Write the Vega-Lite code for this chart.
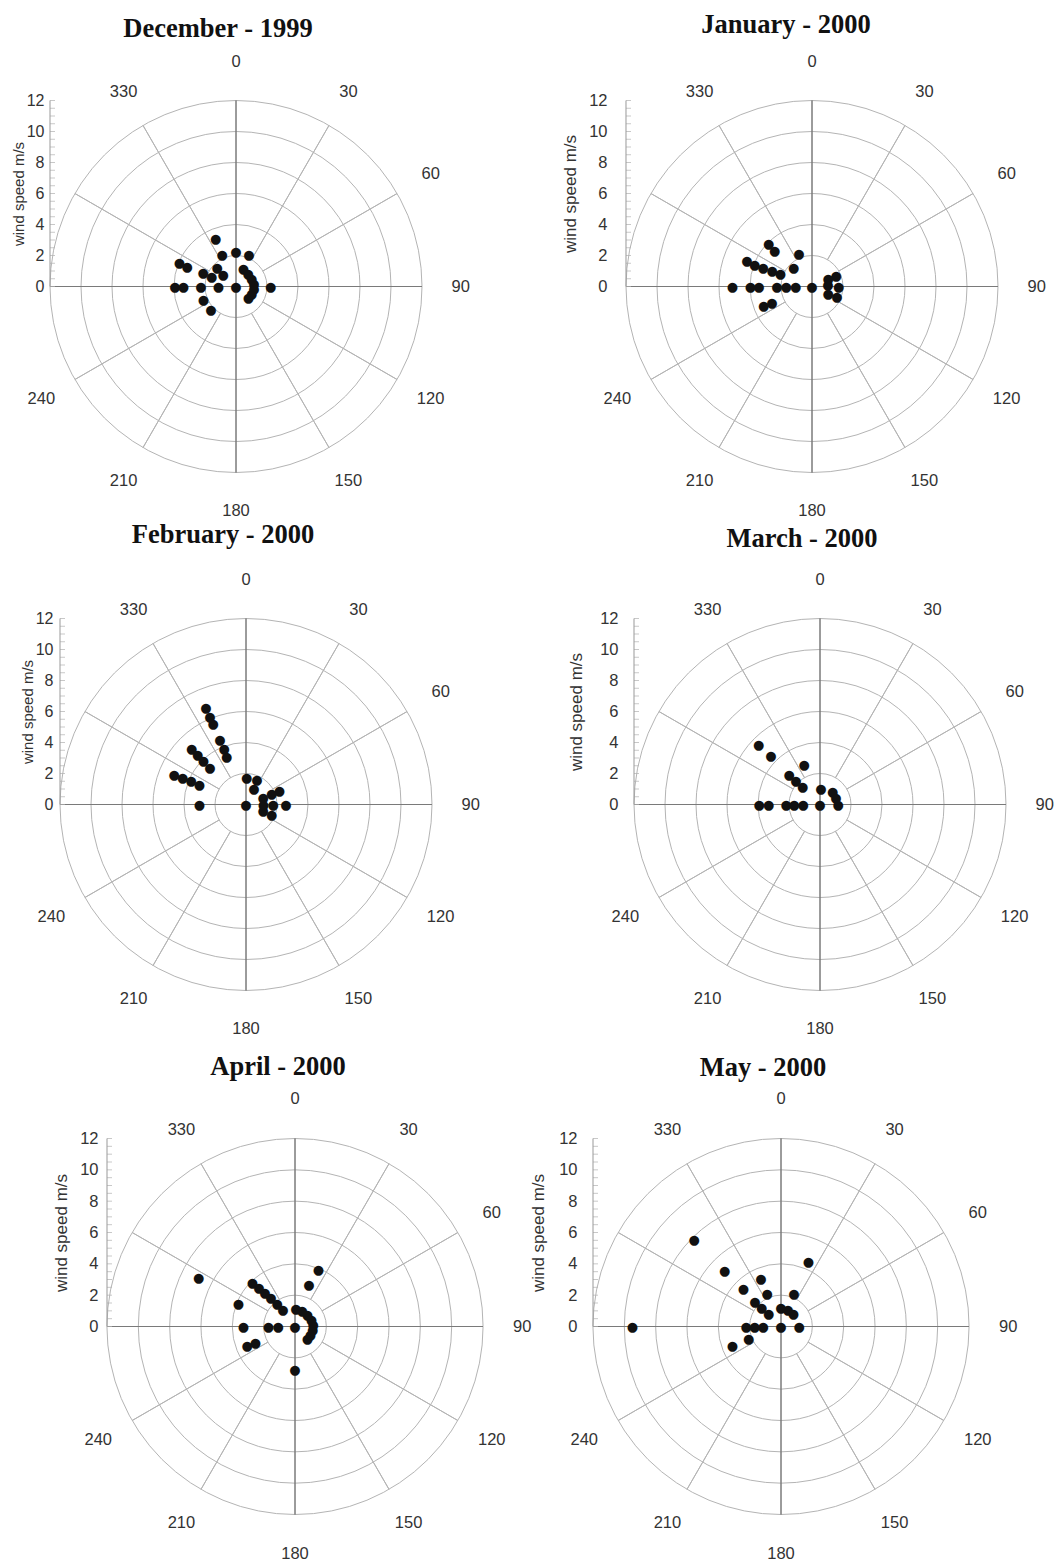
{
"$schema": "https://vega.github.io/schema/vega-lite/v6.json",
"background": "white",
"padding": {"left": 11, "top": 11.5, "right": 0, "bottom": 0},
"config": {"view": {"stroke": null}},
"datasets": {
 "rings": [{"r": 2}, {"r": 4}, {"r": 6}, {"r": 8}, {"r": 10}, {"r": 12}],
 "spokes": [
  {"a": 30, "r0": 2, "r1": 12, "kind": "minor"}, {"a": 60, "r0": 2, "r1": 12, "kind": "minor"},
  {"a": 120, "r0": 2, "r1": 12, "kind": "minor"}, {"a": 150, "r0": 2, "r1": 12, "kind": "minor"},
  {"a": 210, "r0": 2, "r1": 12, "kind": "minor"}, {"a": 240, "r0": 2, "r1": 12, "kind": "minor"},
  {"a": 300, "r0": 2, "r1": 12, "kind": "minor"}, {"a": 330, "r0": 2, "r1": 12, "kind": "minor"},
  {"a": 0, "r0": 0, "r1": 12, "kind": "major"}, {"a": 90, "r0": 0, "r1": 12, "kind": "major"},
  {"a": 180, "r0": 0, "r1": 12, "kind": "major"}, {"a": 270, "r0": 0, "r1": 12, "kind": "major"}
 ],
 "labels": [
  {"a": 0, "lab": "0"}, {"a": 30, "lab": "30"}, {"a": 60, "lab": "60"}, {"a": 90, "lab": "90"},
  {"a": 120, "lab": "120"}, {"a": 150, "lab": "150"}, {"a": 180, "lab": "180"}, {"a": 210, "lab": "210"},
  {"a": 240, "lab": "240"}, {"a": 330, "lab": "330"}
 ],
 "ticks": [
  {"v": 0}, {"v": 0.5}, {"v": 1}, {"v": 1.5}, {"v": 2}, {"v": 2.5}, {"v": 3}, {"v": 3.5}, {"v": 4}, {"v": 4.5},
  {"v": 5}, {"v": 5.5}, {"v": 6}, {"v": 6.5}, {"v": 7}, {"v": 7.5}, {"v": 8}, {"v": 8.5}, {"v": 9}, {"v": 9.5},
  {"v": 10}, {"v": 10.5}, {"v": 11}, {"v": 11.5}, {"v": 12}
 ],
 "dec": [
  {"dir": 336.8, "ws": 3.32}, {"dir": 336.6, "ws": 2.23}, {"dir": 0, "ws": 2.24}, {"dir": 22.3, "ws": 2.21},
  {"dir": 292.3, "ws": 3.95}, {"dir": 291.6, "ws": 3.38}, {"dir": 292, "ws": 2.28}, {"dir": 292, "ws": 1.69},
  {"dir": 314.4, "ws": 1.69}, {"dir": 312.7, "ws": 1.12}, {"dir": 270, "ws": 3.94}, {"dir": 270, "ws": 3.4},
  {"dir": 270, "ws": 2.26}, {"dir": 270, "ws": 1.14}, {"dir": 0, "ws": 0}, {"dir": 248.3, "ws": 2.27},
  {"dir": 226.5, "ws": 2.22}, {"dir": 22.9, "ws": 1.21}, {"dir": 45, "ws": 1.12}, {"dir": 65, "ws": 1.12},
  {"dir": 82.7, "ws": 1.17}, {"dir": 98.5, "ws": 1.17}, {"dir": 116, "ws": 1.13}, {"dir": 134, "ws": 1.11},
  {"dir": 90, "ws": 2.24}
 ],
 "jan": [
  {"dir": 314.3, "ws": 3.9}, {"dir": 313.7, "ws": 3.33}, {"dir": 337.9, "ws": 2.23}, {"dir": 314.5, "ws": 1.66},
  {"dir": 291.6, "ws": 4.51}, {"dir": 291, "ws": 3.96}, {"dir": 290.9, "ws": 3.38}, {"dir": 291, "ws": 2.76},
  {"dir": 291.8, "ws": 2.2}, {"dir": 270, "ws": 5.14}, {"dir": 270, "ws": 3.98}, {"dir": 270, "ws": 3.42},
  {"dir": 270, "ws": 2.26}, {"dir": 270, "ws": 1.66}, {"dir": 270, "ws": 1.05}, {"dir": 0, "ws": 0},
  {"dir": 247.5, "ws": 3.37}, {"dir": 248.2, "ws": 2.78}, {"dir": 65.5, "ws": 1.14}, {"dir": 66, "ws": 1.7},
  {"dir": 86, "ws": 1.03}, {"dir": 90, "ws": 1.72}, {"dir": 113.6, "ws": 1.13}, {"dir": 113, "ws": 1.75}
 ],
 "feb": [
  {"dir": 337.4, "ws": 6.71}, {"dir": 337.7, "ws": 6.12}, {"dir": 337.9, "ws": 5.62}, {"dir": 337.9, "ws": 4.46},
  {"dir": 338.6, "ws": 3.88}, {"dir": 338, "ws": 3.32}, {"dir": 315.4, "ws": 4.99}, {"dir": 315.4, "ws": 4.44},
  {"dir": 315.4, "ws": 3.92}, {"dir": 315.5, "ws": 3.32}, {"dir": 292.2, "ws": 5.0}, {"dir": 292.9, "ws": 4.43},
  {"dir": 293, "ws": 3.85}, {"dir": 292.5, "ws": 3.26}, {"dir": 270, "ws": 3.01}, {"dir": 0, "ws": 0},
  {"dir": 1.5, "ws": 1.72}, {"dir": 24.3, "ws": 1.73}, {"dir": 26.6, "ws": 1.15}, {"dir": 69.4, "ws": 1.19},
  {"dir": 68.7, "ws": 1.78}, {"dir": 68.1, "ws": 2.32}, {"dir": 90, "ws": 1.12}, {"dir": 90, "ws": 1.76},
  {"dir": 90, "ws": 2.58}, {"dir": 110.6, "ws": 1.19}, {"dir": 111.3, "ws": 1.78}
 ],
 "mar": [
  {"dir": 314.4, "ws": 5.53}, {"dir": 314.6, "ws": 4.44}, {"dir": 338.2, "ws": 2.73}, {"dir": 314.3, "ws": 2.77},
  {"dir": 314.6, "ws": 2.18}, {"dir": 315.6, "ws": 1.6}, {"dir": 3.6, "ws": 1.03}, {"dir": 46.6, "ws": 1.13},
  {"dir": 67.3, "ws": 1.12}, {"dir": 90, "ws": 1.18}, {"dir": 270, "ws": 3.92}, {"dir": 270, "ws": 3.31},
  {"dir": 270, "ws": 2.19}, {"dir": 270, "ws": 1.66}, {"dir": 270, "ws": 1.08}, {"dir": 0, "ws": 0}
 ],
 "apr": [
  {"dir": 296.8, "ws": 6.89}, {"dir": 292.1, "ws": 3.89}, {"dir": 315.7, "ws": 3.9}, {"dir": 316.9, "ws": 3.38},
  {"dir": 317.7, "ws": 2.85}, {"dir": 319.3, "ws": 2.36}, {"dir": 321.7, "ws": 1.84}, {"dir": 324.6, "ws": 1.33},
  {"dir": 22.6, "ws": 3.89}, {"dir": 18.5, "ws": 2.78}, {"dir": 3.4, "ws": 1.09}, {"dir": 25.2, "ws": 1.08},
  {"dir": 45.9, "ws": 1.1}, {"dir": 67, "ws": 1.14}, {"dir": 86, "ws": 1.17}, {"dir": 102.8, "ws": 1.15},
  {"dir": 119.3, "ws": 1.13}, {"dir": 136, "ws": 1.15}, {"dir": 270, "ws": 3.3}, {"dir": 270, "ws": 1.69},
  {"dir": 270, "ws": 1.08}, {"dir": 0, "ws": 0}, {"dir": 247.6, "ws": 3.31}, {"dir": 246.8, "ws": 2.75},
  {"dir": 180, "ws": 2.79}
 ],
 "may": [
  {"dir": 314.8, "ws": 7.82}, {"dir": 314.7, "ws": 5.05}, {"dir": 22.9, "ws": 4.48}, {"dir": 337.2, "ws": 3.32},
  {"dir": 314.5, "ws": 3.37}, {"dir": 337, "ws": 2.24}, {"dir": 21.9, "ws": 2.22}, {"dir": 313.5, "ws": 2.29},
  {"dir": 314.2, "ws": 1.71}, {"dir": 314.3, "ws": 1.1}, {"dir": 0, "ws": 1.15}, {"dir": 22.6, "ws": 1.13},
  {"dir": 45.7, "ws": 1.1}, {"dir": 90, "ws": 1.16}, {"dir": 0, "ws": 0}, {"dir": 270, "ws": 1.14},
  {"dir": 270, "ws": 1.68}, {"dir": 270, "ws": 2.23}, {"dir": 270, "ws": 9.48}, {"dir": 248.5, "ws": 2.21},
  {"dir": 248.3, "ws": 3.34}
 ]
},
"columns": 2,
"spacing": {"row": 146, "column": 53},
"bounds": "flush",
"resolve": {"scale": {"radius": "independent", "theta": "independent", "stroke": "independent", "x": "independent", "y": "independent"}},
"concat": [
  {"width": 372, "height": 372,
   "title": {"text": "December - 1999", "font": "Liberation Serif", "fontSize": 26.5, "fontWeight": "bold", "color": "#111", "anchor": "middle", "frame": "group", "offset": 13, "dx": -18, "dy": 2},
   "layer": [
    {"data": {"name": "rings"}, "mark": {"type": "arc", "theta": 0, "theta2": 6.2832, "fill": "white", "fillOpacity": 0, "stroke": "#b4b4b4", "strokeWidth": 1},
     "encoding": {"radius": {"field": "r", "type": "quantitative", "stack": null, "scale": {"type": "linear", "domain": [0, 12], "range": [0, 186], "zero": true, "nice": false}}}},
    {"data": {"name": "spokes"}, "mark": {"type": "arc", "fill": "white", "fillOpacity": 0, "strokeWidth": 1},
     "encoding": {"theta": {"field": "a", "type": "quantitative", "stack": null, "scale": {"type": "linear", "domain": [0, 360], "range": [0, 6.283185307179586], "zero": true, "nice": false}}, "theta2": {"field": "a"},
      "radius": {"field": "r1", "type": "quantitative", "stack": null, "scale": {"type": "linear", "domain": [0, 12], "range": [0, 186], "zero": true, "nice": false}}, "radius2": {"field": "r0"},
      "stroke": {"field": "kind", "type": "nominal", "scale": {"domain": ["minor", "major"], "range": ["#b4b4b4", "#7a7a7a"]}, "legend": null}}},
    {"data": {"name": "ticks"}, "mark": {"type": "tick", "orient": "horizontal", "size": 5, "thickness": 1, "color": "#b0b0b0", "xOffset": 2.5},
     "encoding": {"x": {"datum": -12, "type": "quantitative", "scale": {"domain": [-12, 12], "nice": false, "zero": false}, "axis": null},
      "y": {"field": "v", "type": "quantitative", "scale": {"domain": [-12, 12], "nice": false, "zero": false},
       "axis": {"values": [0, 2, 4, 6, 8, 10, 12], "domain": false, "ticks": false, "grid": false, "labelFont": "Liberation Sans", "labelFontSize": 16, "labelColor": "#333", "labelPadding": 6, "title": "wind speed m/s", "titleFont": "Liberation Sans", "titleFontSize": 15, "titleFontWeight": "normal", "titleColor": "#333", "titlePadding": 0, "titleY": 93, "offset": 0}}}},
    {"data": {"values": [{}]}, "mark": {"type": "rule", "color": "#999", "strokeWidth": 1},
     "encoding": {"x": {"datum": -12, "type": "quantitative", "scale": {"domain": [-12, 12], "nice": false, "zero": false}, "axis": null},
      "y": {"datum": 0, "type": "quantitative", "scale": {"domain": [-12, 12], "nice": false, "zero": false}},
      "y2": {"datum": 12}}},
    {"data": {"name": "labels"}, "mark": {"type": "text", "font": "Liberation Sans", "fontSize": 16.5, "color": "#333", "align": "center", "baseline": "middle"},
     "encoding": {"theta": {"field": "a", "type": "quantitative", "scale": {"type": "linear", "domain": [0, 360], "range": [0, 6.283185307179586], "zero": true, "nice": false}},
      "radius": {"datum": 14.5, "type": "quantitative", "scale": {"type": "linear", "domain": [0, 12], "range": [0, 186], "zero": true, "nice": false}},
      "text": {"field": "lab", "type": "nominal"}}},
    {"data": {"name": "dec"}, "mark": {"type": "text", "text": "●", "font": "DejaVu Sans", "fontSize": 13, "color": "#111", "align": "center", "baseline": "middle"},
     "encoding": {"theta": {"field": "dir", "type": "quantitative", "scale": {"type": "linear", "domain": [0, 360], "range": [0, 6.283185307179586], "zero": true, "nice": false}},
      "radius": {"field": "ws", "type": "quantitative", "scale": {"type": "linear", "domain": [0, 12], "range": [0, 186], "zero": true, "nice": false}}}}
   ]},
  {"width": 438, "height": 372,
   "title": {"text": "January - 2000", "font": "Liberation Serif", "fontSize": 26.5, "fontWeight": "bold", "color": "#111", "anchor": "middle", "frame": "group", "offset": 13, "dx": -26, "dy": -2},
   "layer": [
    {"data": {"name": "rings"}, "mark": {"type": "arc", "theta": 0, "theta2": 6.2832, "fill": "white", "fillOpacity": 0, "stroke": "#b4b4b4", "strokeWidth": 1},
     "encoding": {"radius": {"field": "r", "type": "quantitative", "stack": null, "scale": {"type": "linear", "domain": [0, 12], "range": [0, 186], "zero": true, "nice": false}}}},
    {"data": {"name": "spokes"}, "mark": {"type": "arc", "fill": "white", "fillOpacity": 0, "strokeWidth": 1},
     "encoding": {"theta": {"field": "a", "type": "quantitative", "stack": null, "scale": {"type": "linear", "domain": [0, 360], "range": [0, 6.283185307179586], "zero": true, "nice": false}}, "theta2": {"field": "a"},
      "radius": {"field": "r1", "type": "quantitative", "stack": null, "scale": {"type": "linear", "domain": [0, 12], "range": [0, 186], "zero": true, "nice": false}}, "radius2": {"field": "r0"},
      "stroke": {"field": "kind", "type": "nominal", "scale": {"domain": ["minor", "major"], "range": ["#b4b4b4", "#7a7a7a"]}, "legend": null}}},
    {"data": {"name": "ticks"}, "mark": {"type": "tick", "orient": "horizontal", "size": 5, "thickness": 1, "color": "#b0b0b0", "xOffset": 2.5},
     "encoding": {"x": {"datum": -12, "type": "quantitative", "scale": {"domain": [-14.129, 14.129], "nice": false, "zero": false}, "axis": null},
      "y": {"field": "v", "type": "quantitative", "scale": {"domain": [-12, 12], "nice": false, "zero": false},
       "axis": {"values": [0, 2, 4, 6, 8, 10, 12], "domain": false, "ticks": false, "grid": false, "labelFont": "Liberation Sans", "labelFontSize": 16.5, "labelColor": "#333", "labelPadding": 19, "title": "wind speed m/s", "titleFont": "Liberation Sans", "titleFontSize": 17, "titleFontWeight": "normal", "titleColor": "#333", "titlePadding": 9, "titleY": 93, "offset": -33}}}},
    {"data": {"values": [{}]}, "mark": {"type": "rule", "color": "#999", "strokeWidth": 1},
     "encoding": {"x": {"datum": -12, "type": "quantitative", "scale": {"domain": [-14.129, 14.129], "nice": false, "zero": false}, "axis": null},
      "y": {"datum": 0, "type": "quantitative", "scale": {"domain": [-12, 12], "nice": false, "zero": false}},
      "y2": {"datum": 12}}},
    {"data": {"name": "labels"}, "mark": {"type": "text", "font": "Liberation Sans", "fontSize": 16.5, "color": "#333", "align": "center", "baseline": "middle"},
     "encoding": {"theta": {"field": "a", "type": "quantitative", "scale": {"type": "linear", "domain": [0, 360], "range": [0, 6.283185307179586], "zero": true, "nice": false}},
      "radius": {"datum": 14.5, "type": "quantitative", "scale": {"type": "linear", "domain": [0, 12], "range": [0, 186], "zero": true, "nice": false}},
      "text": {"field": "lab", "type": "nominal"}}},
    {"data": {"name": "jan"}, "mark": {"type": "text", "text": "●", "font": "DejaVu Sans", "fontSize": 13, "color": "#111", "align": "center", "baseline": "middle"},
     "encoding": {"theta": {"field": "dir", "type": "quantitative", "scale": {"type": "linear", "domain": [0, 360], "range": [0, 6.283185307179586], "zero": true, "nice": false}},
      "radius": {"field": "ws", "type": "quantitative", "scale": {"type": "linear", "domain": [0, 12], "range": [0, 186], "zero": true, "nice": false}}}}
   ]},
  {"width": 392, "height": 372,
   "title": {"text": "February - 2000", "font": "Liberation Serif", "fontSize": 26.5, "fontWeight": "bold", "color": "#111", "anchor": "middle", "frame": "group", "offset": 13, "dx": -23, "dy": -10},
   "layer": [
    {"data": {"name": "rings"}, "mark": {"type": "arc", "theta": 0, "theta2": 6.2832, "fill": "white", "fillOpacity": 0, "stroke": "#b4b4b4", "strokeWidth": 1},
     "encoding": {"radius": {"field": "r", "type": "quantitative", "stack": null, "scale": {"type": "linear", "domain": [0, 12], "range": [0, 186], "zero": true, "nice": false}}}},
    {"data": {"name": "spokes"}, "mark": {"type": "arc", "fill": "white", "fillOpacity": 0, "strokeWidth": 1},
     "encoding": {"theta": {"field": "a", "type": "quantitative", "stack": null, "scale": {"type": "linear", "domain": [0, 360], "range": [0, 6.283185307179586], "zero": true, "nice": false}}, "theta2": {"field": "a"},
      "radius": {"field": "r1", "type": "quantitative", "stack": null, "scale": {"type": "linear", "domain": [0, 12], "range": [0, 186], "zero": true, "nice": false}}, "radius2": {"field": "r0"},
      "stroke": {"field": "kind", "type": "nominal", "scale": {"domain": ["minor", "major"], "range": ["#b4b4b4", "#7a7a7a"]}, "legend": null}}},
    {"data": {"name": "ticks"}, "mark": {"type": "tick", "orient": "horizontal", "size": 5, "thickness": 1, "color": "#b0b0b0", "xOffset": 2.5},
     "encoding": {"x": {"datum": -12, "type": "quantitative", "scale": {"domain": [-12.6452, 12.6452], "nice": false, "zero": false}, "axis": null},
      "y": {"field": "v", "type": "quantitative", "scale": {"domain": [-12, 12], "nice": false, "zero": false},
       "axis": {"values": [0, 2, 4, 6, 8, 10, 12], "domain": false, "ticks": false, "grid": false, "labelFont": "Liberation Sans", "labelFontSize": 16, "labelColor": "#333", "labelPadding": 7, "title": "wind speed m/s", "titleFont": "Liberation Sans", "titleFontSize": 15, "titleFontWeight": "normal", "titleColor": "#333", "titlePadding": 0, "titleY": 93, "offset": -10}}}},
    {"data": {"values": [{}]}, "mark": {"type": "rule", "color": "#999", "strokeWidth": 1},
     "encoding": {"x": {"datum": -12, "type": "quantitative", "scale": {"domain": [-12.6452, 12.6452], "nice": false, "zero": false}, "axis": null},
      "y": {"datum": 0, "type": "quantitative", "scale": {"domain": [-12, 12], "nice": false, "zero": false}},
      "y2": {"datum": 12}}},
    {"data": {"name": "labels"}, "mark": {"type": "text", "font": "Liberation Sans", "fontSize": 16.5, "color": "#333", "align": "center", "baseline": "middle"},
     "encoding": {"theta": {"field": "a", "type": "quantitative", "scale": {"type": "linear", "domain": [0, 360], "range": [0, 6.283185307179586], "zero": true, "nice": false}},
      "radius": {"datum": 14.5, "type": "quantitative", "scale": {"type": "linear", "domain": [0, 12], "range": [0, 186], "zero": true, "nice": false}},
      "text": {"field": "lab", "type": "nominal"}}},
    {"data": {"name": "feb"}, "mark": {"type": "text", "text": "●", "font": "DejaVu Sans", "fontSize": 13, "color": "#111", "align": "center", "baseline": "middle"},
     "encoding": {"theta": {"field": "dir", "type": "quantitative", "scale": {"type": "linear", "domain": [0, 360], "range": [0, 6.283185307179586], "zero": true, "nice": false}},
      "radius": {"field": "ws", "type": "quantitative", "scale": {"type": "linear", "domain": [0, 12], "range": [0, 186], "zero": true, "nice": false}}}}
   ]},
  {"width": 454, "height": 372,
   "title": {"text": "March - 2000", "font": "Liberation Serif", "fontSize": 26.5, "fontWeight": "bold", "color": "#111", "anchor": "middle", "frame": "group", "offset": 13, "dx": -18, "dy": -6},
   "layer": [
    {"data": {"name": "rings"}, "mark": {"type": "arc", "theta": 0, "theta2": 6.2832, "fill": "white", "fillOpacity": 0, "stroke": "#b4b4b4", "strokeWidth": 1},
     "encoding": {"radius": {"field": "r", "type": "quantitative", "stack": null, "scale": {"type": "linear", "domain": [0, 12], "range": [0, 186], "zero": true, "nice": false}}}},
    {"data": {"name": "spokes"}, "mark": {"type": "arc", "fill": "white", "fillOpacity": 0, "strokeWidth": 1},
     "encoding": {"theta": {"field": "a", "type": "quantitative", "stack": null, "scale": {"type": "linear", "domain": [0, 360], "range": [0, 6.283185307179586], "zero": true, "nice": false}}, "theta2": {"field": "a"},
      "radius": {"field": "r1", "type": "quantitative", "stack": null, "scale": {"type": "linear", "domain": [0, 12], "range": [0, 186], "zero": true, "nice": false}}, "radius2": {"field": "r0"},
      "stroke": {"field": "kind", "type": "nominal", "scale": {"domain": ["minor", "major"], "range": ["#b4b4b4", "#7a7a7a"]}, "legend": null}}},
    {"data": {"name": "ticks"}, "mark": {"type": "tick", "orient": "horizontal", "size": 5, "thickness": 1, "color": "#b0b0b0", "xOffset": 2.5},
     "encoding": {"x": {"datum": -12, "type": "quantitative", "scale": {"domain": [-14.6452, 14.6452], "nice": false, "zero": false}, "axis": null},
      "y": {"field": "v", "type": "quantitative", "scale": {"domain": [-12, 12], "nice": false, "zero": false},
       "axis": {"values": [0, 2, 4, 6, 8, 10, 12], "domain": false, "ticks": false, "grid": false, "labelFont": "Liberation Sans", "labelFontSize": 16.5, "labelColor": "#333", "labelPadding": 16, "title": "wind speed m/s", "titleFont": "Liberation Sans", "titleFontSize": 17, "titleFontWeight": "normal", "titleColor": "#333", "titlePadding": 14, "titleY": 93, "offset": -41}}}},
    {"data": {"values": [{}]}, "mark": {"type": "rule", "color": "#999", "strokeWidth": 1},
     "encoding": {"x": {"datum": -12, "type": "quantitative", "scale": {"domain": [-14.6452, 14.6452], "nice": false, "zero": false}, "axis": null},
      "y": {"datum": 0, "type": "quantitative", "scale": {"domain": [-12, 12], "nice": false, "zero": false}},
      "y2": {"datum": 12}}},
    {"data": {"name": "labels"}, "mark": {"type": "text", "font": "Liberation Sans", "fontSize": 16.5, "color": "#333", "align": "center", "baseline": "middle"},
     "encoding": {"theta": {"field": "a", "type": "quantitative", "scale": {"type": "linear", "domain": [0, 360], "range": [0, 6.283185307179586], "zero": true, "nice": false}},
      "radius": {"datum": 14.5, "type": "quantitative", "scale": {"type": "linear", "domain": [0, 12], "range": [0, 186], "zero": true, "nice": false}},
      "text": {"field": "lab", "type": "nominal"}}},
    {"data": {"name": "mar"}, "mark": {"type": "text", "text": "●", "font": "DejaVu Sans", "fontSize": 13, "color": "#111", "align": "center", "baseline": "middle"},
     "encoding": {"theta": {"field": "dir", "type": "quantitative", "scale": {"type": "linear", "domain": [0, 360], "range": [0, 6.283185307179586], "zero": true, "nice": false}},
      "radius": {"field": "ws", "type": "quantitative", "scale": {"type": "linear", "domain": [0, 12], "range": [0, 186], "zero": true, "nice": false}}}}
   ]},
  {"width": 490, "height": 380,
   "title": {"text": "April - 2000", "font": "Liberation Serif", "fontSize": 26.5, "fontWeight": "bold", "color": "#111", "anchor": "middle", "frame": "group", "offset": 13, "dx": -17, "dy": 2},
   "layer": [
    {"data": {"name": "rings"}, "mark": {"type": "arc", "theta": 0, "theta2": 6.2832, "fill": "white", "fillOpacity": 0, "stroke": "#b4b4b4", "strokeWidth": 1},
     "encoding": {"radius": {"field": "r", "type": "quantitative", "stack": null, "scale": {"type": "linear", "domain": [0, 12], "range": [0, 188], "zero": true, "nice": false}}}},
    {"data": {"name": "spokes"}, "mark": {"type": "arc", "fill": "white", "fillOpacity": 0, "strokeWidth": 1},
     "encoding": {"theta": {"field": "a", "type": "quantitative", "stack": null, "scale": {"type": "linear", "domain": [0, 360], "range": [0, 6.283185307179586], "zero": true, "nice": false}}, "theta2": {"field": "a"},
      "radius": {"field": "r1", "type": "quantitative", "stack": null, "scale": {"type": "linear", "domain": [0, 12], "range": [0, 188], "zero": true, "nice": false}}, "radius2": {"field": "r0"},
      "stroke": {"field": "kind", "type": "nominal", "scale": {"domain": ["minor", "major"], "range": ["#b4b4b4", "#7a7a7a"]}, "legend": null}}},
    {"data": {"name": "ticks"}, "mark": {"type": "tick", "orient": "horizontal", "size": 5, "thickness": 1, "color": "#b0b0b0", "xOffset": 2.5},
     "encoding": {"x": {"datum": -12, "type": "quantitative", "scale": {"domain": [-15.6383, 15.6383], "nice": false, "zero": false}, "axis": null},
      "y": {"field": "v", "type": "quantitative", "scale": {"domain": [-12.1277, 12.1277], "nice": false, "zero": false},
       "axis": {"values": [0, 2, 4, 6, 8, 10, 12], "domain": false, "ticks": false, "grid": false, "labelFont": "Liberation Sans", "labelFontSize": 16.5, "labelColor": "#333", "labelPadding": 9, "title": "wind speed m/s", "titleFont": "Liberation Sans", "titleFontSize": 17, "titleFontWeight": "normal", "titleColor": "#333", "titlePadding": 9, "titleY": 96, "offset": -57}}}},
    {"data": {"values": [{}]}, "mark": {"type": "rule", "color": "#999", "strokeWidth": 1},
     "encoding": {"x": {"datum": -12, "type": "quantitative", "scale": {"domain": [-15.6383, 15.6383], "nice": false, "zero": false}, "axis": null},
      "y": {"datum": 0, "type": "quantitative", "scale": {"domain": [-12.1277, 12.1277], "nice": false, "zero": false}},
      "y2": {"datum": 12}}},
    {"data": {"name": "labels"}, "mark": {"type": "text", "font": "Liberation Sans", "fontSize": 16.5, "color": "#333", "align": "center", "baseline": "middle"},
     "encoding": {"theta": {"field": "a", "type": "quantitative", "scale": {"type": "linear", "domain": [0, 360], "range": [0, 6.283185307179586], "zero": true, "nice": false}},
      "radius": {"datum": 14.5, "type": "quantitative", "scale": {"type": "linear", "domain": [0, 12], "range": [0, 188], "zero": true, "nice": false}},
      "text": {"field": "lab", "type": "nominal"}}},
    {"data": {"name": "apr"}, "mark": {"type": "text", "text": "●", "font": "DejaVu Sans", "fontSize": 13, "color": "#111", "align": "center", "baseline": "middle"},
     "encoding": {"theta": {"field": "dir", "type": "quantitative", "scale": {"type": "linear", "domain": [0, 360], "range": [0, 6.283185307179586], "zero": true, "nice": false}},
      "radius": {"field": "ws", "type": "quantitative", "scale": {"type": "linear", "domain": [0, 12], "range": [0, 188], "zero": true, "nice": false}}}}
   ]},
  {"width": 376, "height": 380,
   "title": {"text": "May - 2000", "font": "Liberation Serif", "fontSize": 26.5, "fontWeight": "bold", "color": "#111", "anchor": "middle", "frame": "group", "offset": 13, "dx": -18, "dy": 3},
   "layer": [
    {"data": {"name": "rings"}, "mark": {"type": "arc", "theta": 0, "theta2": 6.2832, "fill": "white", "fillOpacity": 0, "stroke": "#b4b4b4", "strokeWidth": 1},
     "encoding": {"radius": {"field": "r", "type": "quantitative", "stack": null, "scale": {"type": "linear", "domain": [0, 12], "range": [0, 188], "zero": true, "nice": false}}}},
    {"data": {"name": "spokes"}, "mark": {"type": "arc", "fill": "white", "fillOpacity": 0, "strokeWidth": 1},
     "encoding": {"theta": {"field": "a", "type": "quantitative", "stack": null, "scale": {"type": "linear", "domain": [0, 360], "range": [0, 6.283185307179586], "zero": true, "nice": false}}, "theta2": {"field": "a"},
      "radius": {"field": "r1", "type": "quantitative", "stack": null, "scale": {"type": "linear", "domain": [0, 12], "range": [0, 188], "zero": true, "nice": false}}, "radius2": {"field": "r0"},
      "stroke": {"field": "kind", "type": "nominal", "scale": {"domain": ["minor", "major"], "range": ["#b4b4b4", "#7a7a7a"]}, "legend": null}}},
    {"data": {"name": "ticks"}, "mark": {"type": "tick", "orient": "horizontal", "size": 5, "thickness": 1, "color": "#b0b0b0", "xOffset": 2.5},
     "encoding": {"x": {"datum": -12, "type": "quantitative", "scale": {"domain": [-12, 12], "nice": false, "zero": false}, "axis": null},
      "y": {"field": "v", "type": "quantitative", "scale": {"domain": [-12.1277, 12.1277], "nice": false, "zero": false},
       "axis": {"values": [0, 2, 4, 6, 8, 10, 12], "domain": false, "ticks": false, "grid": false, "labelFont": "Liberation Sans", "labelFontSize": 16.5, "labelColor": "#333", "labelPadding": 16, "title": "wind speed m/s", "titleFont": "Liberation Sans", "titleFontSize": 17, "titleFontWeight": "normal", "titleColor": "#333", "titlePadding": 11, "titleY": 96, "offset": 0}}}},
    {"data": {"values": [{}]}, "mark": {"type": "rule", "color": "#999", "strokeWidth": 1},
     "encoding": {"x": {"datum": -12, "type": "quantitative", "scale": {"domain": [-12, 12], "nice": false, "zero": false}, "axis": null},
      "y": {"datum": 0, "type": "quantitative", "scale": {"domain": [-12.1277, 12.1277], "nice": false, "zero": false}},
      "y2": {"datum": 12}}},
    {"data": {"name": "labels"}, "mark": {"type": "text", "font": "Liberation Sans", "fontSize": 16.5, "color": "#333", "align": "center", "baseline": "middle"},
     "encoding": {"theta": {"field": "a", "type": "quantitative", "scale": {"type": "linear", "domain": [0, 360], "range": [0, 6.283185307179586], "zero": true, "nice": false}},
      "radius": {"datum": 14.5, "type": "quantitative", "scale": {"type": "linear", "domain": [0, 12], "range": [0, 188], "zero": true, "nice": false}},
      "text": {"field": "lab", "type": "nominal"}}},
    {"data": {"name": "may"}, "mark": {"type": "text", "text": "●", "font": "DejaVu Sans", "fontSize": 13, "color": "#111", "align": "center", "baseline": "middle"},
     "encoding": {"theta": {"field": "dir", "type": "quantitative", "scale": {"type": "linear", "domain": [0, 360], "range": [0, 6.283185307179586], "zero": true, "nice": false}},
      "radius": {"field": "ws", "type": "quantitative", "scale": {"type": "linear", "domain": [0, 12], "range": [0, 188], "zero": true, "nice": false}}}}
   ]}
]
}
